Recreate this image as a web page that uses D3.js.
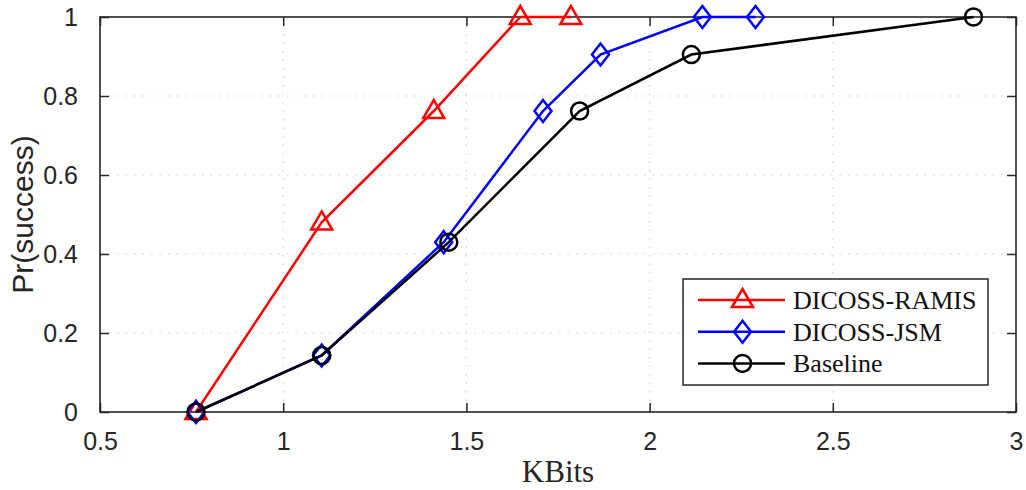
<!DOCTYPE html>
<html><head><meta charset="utf-8">
<script src="https://cdn.jsdelivr.net/npm/d3@7"></script>
<style>body{margin:0;background:#fff}</style>
</head><body>
<svg id="chart" width="1026" height="490"></svg>
<script>
const ramisX = [0.762, 1.105, 1.411, 1.647, 1.785];
const ramisY = [0, 0.48, 0.762, 1, 1];
const jsmX = [0.762, 1.105, 1.438, 1.709, 1.866, 2.144, 2.289];
const jsmY = [0, 0.143, 0.43, 0.762, 0.905, 1, 1];
const baseX = [0.762, 1.105, 1.452, 1.809, 2.114, 2.884];
const baseY = [0, 0.143, 0.43, 0.762, 0.905, 1];
const xTicks = [0.5, 1, 1.5, 2, 2.5, 3];
const yTicks = [0, 0.2, 0.4, 0.6, 0.8, 1];
const seriesNames = ["DICOSS-RAMIS", "DICOSS-JSM", "Baseline"];

const svg = d3.select("#chart");
const L = 100, R = 1016, T = 17, B = 412;
const x = d3.scaleLinear().domain([0.5, 3]).range([L, R]);
const y = d3.scaleLinear().domain([0, 1]).range([B, T]);
const axisColor = "#262626";

// grid
const grid = svg.append("g");
grid.selectAll(".gx").data(xTicks.slice(1, -1)).enter().append("line")
  .attr("x1", d => x(d)).attr("x2", d => x(d)).attr("y1", T).attr("y2", B)
  .attr("stroke", "#cfcfcf").attr("stroke-width", 1.2).attr("stroke-dasharray", "1.5,7");
grid.selectAll(".gy").data(yTicks.slice(1, -1)).enter().append("line")
  .attr("y1", d => y(d)).attr("y2", d => y(d)).attr("x1", L).attr("x2", R)
  .attr("stroke", "#cfcfcf").attr("stroke-width", 1.2).attr("stroke-dasharray", "1.5,7");

// axes
const fmt = d => d3.format("")(d);
const ax = (g, axis) => {
  g.call(axis);
  g.select(".domain").remove();
  g.selectAll("line").attr("stroke", axisColor).attr("stroke-width", 1.5);
  g.selectAll("text").attr("fill", axisColor).style("font-family", "'Liberation Sans', Arial, sans-serif").style("font-size", "25px");
};
svg.append("g").attr("transform", `translate(0,${B})`)
  .call(g => ax(g, d3.axisBottom(x).tickValues(xTicks).tickFormat(fmt).tickSizeInner(-9).tickSizeOuter(0).tickPadding(20)));
svg.append("g").attr("transform", `translate(0,${T})`)
  .call(g => { ax(g, d3.axisTop(x).tickValues(xTicks).tickSizeInner(-9).tickSizeOuter(0)); g.selectAll("text").remove(); });
svg.append("g").attr("transform", `translate(${L},0)`)
  .call(g => ax(g, d3.axisLeft(y).tickValues(yTicks).tickFormat(fmt).tickSizeInner(-9).tickSizeOuter(0).tickPadding(22)));
svg.append("g").attr("transform", `translate(${R},0)`)
  .call(g => { ax(g, d3.axisRight(y).tickValues(yTicks).tickSizeInner(-9).tickSizeOuter(0)); g.selectAll("text").remove(); });
svg.append("rect").attr("x", L).attr("y", T).attr("width", R - L).attr("height", B - T)
  .attr("fill", "none").attr("stroke", axisColor).attr("stroke-width", 1.6);

// labels
svg.append("text").attr("x", (L + R) / 2).attr("y", 482).attr("text-anchor", "middle")
  .style("font-family", "'Liberation Serif', 'Times New Roman', serif").style("font-size", "31px").attr("fill", axisColor).text("KBits");
svg.append("text").attr("transform", `translate(33,${(T + B) / 2}) rotate(-90)`).attr("text-anchor", "middle")
  .style("font-family", "'Liberation Sans', Arial, sans-serif").style("font-size", "30px").attr("fill", axisColor).text("Pr(success)");

// markers
function marker(g, type, cx, cy, color) {
  if (type === "tri") {
    g.append("path").attr("d", "M0,-11 L10.5,7 L-10.5,7 Z").attr("transform", `translate(${cx},${cy})`)
      .attr("fill", "none").attr("stroke", color).attr("stroke-width", 2.5);
  } else if (type === "dia") {
    g.append("path").attr("d", "M0,-11 L8.5,0 L0,11 L-8.5,0 Z").attr("transform", `translate(${cx},${cy})`)
      .attr("fill", "none").attr("stroke", color).attr("stroke-width", 2.5);
  } else {
    g.append("circle").attr("cx", cx).attr("cy", cy).attr("r", 8.5)
      .attr("fill", "none").attr("stroke", color).attr("stroke-width", 2.5);
  }
}
const series = [
  {name: seriesNames[0], xs: ramisX, ys: ramisY, color: "#ff0000", m: "tri"},
  {name: seriesNames[1], xs: jsmX, ys: jsmY, color: "#0000ff", m: "dia"},
  {name: seriesNames[2], xs: baseX, ys: baseY, color: "#000000", m: "circ"}
];
const line = d3.line().x(d => x(d[0])).y(d => y(d[1]));
series.forEach(s => {
  const pts = s.xs.map((v, i) => [v, s.ys[i]]);
  const g = svg.append("g");
  g.append("path").attr("d", line(pts)).attr("fill", "none").attr("stroke", s.color).attr("stroke-width", 2.5);
  pts.forEach(p => marker(g, s.m, x(p[0]), y(p[1]), s.color));
});

// legend
const lg = svg.append("g");
lg.append("rect").attr("x", 683).attr("y", 279).attr("width", 305).attr("height", 106)
  .attr("fill", "#fff").attr("stroke", axisColor).attr("stroke-width", 1.5);
series.forEach((s, i) => {
  const cy = 300 + i * 31.7;
  lg.append("line").attr("x1", 698).attr("x2", 785).attr("y1", cy).attr("y2", cy).attr("stroke", s.color).attr("stroke-width", 2.5);
  marker(lg, s.m, 742.5, cy, s.color);
  lg.append("text").attr("x", 793).attr("y", cy + 9).style("font-family", "'Liberation Serif', 'Times New Roman', serif")
    .style("font-size", "26px").attr("fill", "#111").text(s.name);
});
</script>
</body></html>
